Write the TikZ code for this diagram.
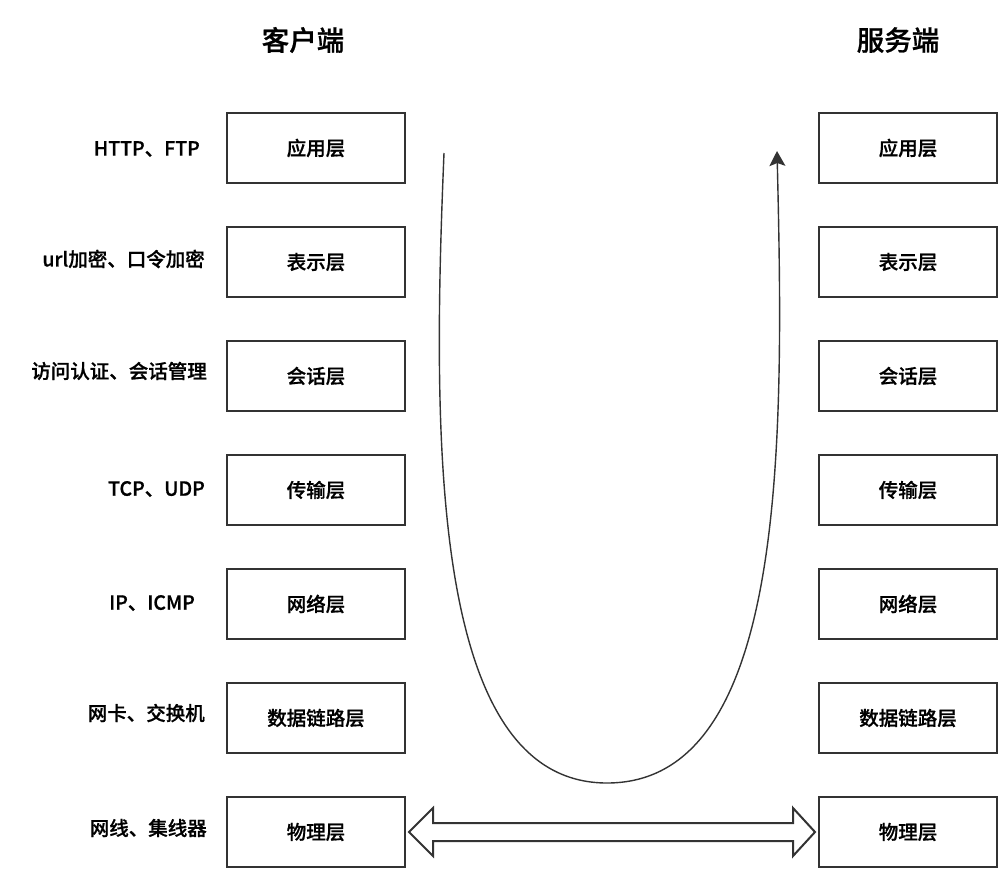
\documentclass[tikz,border=0pt]{standalone}
\usepackage{fontspec}
\setmainfont{Noto Sans CJK SC}[BoldFont={Noto Sans CJK SC Medium},BoldFeatures={FakeBold=0.8}]
\usetikzlibrary{arrows.meta,calc}
\definecolor{ln}{HTML}{333333}
\begin{document}
\begin{tikzpicture}[x=1pt,y=-1pt,
  layerbox/.style={draw=ln,line width=2pt,minimum width=178pt,minimum height=70pt,inner sep=0pt,font=\fontsize{19.5}{19.5}\selectfont\bfseries,anchor=center},
  lbl/.style={font=\fontsize{19.5}{19.5}\selectfont\bfseries,anchor=east,inner sep=0pt},
  ttl/.style={font=\fontsize{27.5}{27.5}\selectfont\bfseries,inner sep=0pt}]
\useasboundingbox (0,0) rectangle (998,868);
\node[ttl] (tl) at (303,40) {客户端};
\node[ttl] (tr) at (898,40) {服务端};
\foreach \i/\t [count=\k] in {148/应用层,262/表示层,376/会话层,490/传输层,604/网络层,718/数据链路层,832/物理层}{
  \node[layerbox] (L\k) at (316,\i) {\t};
  \node[layerbox] (R\k) at (908,\i) {\t};
}
\node[lbl] (a1) at (200,149) {HTTP、FTP};
\node[lbl] (a2) at (205,259) {url加密、口令加密};
\node[lbl] (a3) at (207,371) {访问认证、会话管理};
\node[lbl] (a4) at (205,489) {TCP、UDP};
\node[lbl] (a5) at (195,603) {IP、ICMP};
\node[lbl] (a6) at (205,713) {网卡、交换机};
\node[lbl] (a7) at (207,828) {网线、集线器};
\coordinate (cs) at (444,153);
\coordinate (cb) at (607,783);
\coordinate (ce) at (777,151);
\draw[ln,line width=1.4pt,-{Stealth[length=15pt,width=16pt,inset=3pt]}]
  (cs) .. controls (432,440) and (430,783) .. (cb)
       .. controls (788,783) and (784,440) .. (ce);
\draw[ln,line width=2pt,line join=miter,fill=white]
  ($(L7.east)+(3,0)$) -- (433,808) -- (433,823) -- (793,823) -- (793,808)
  -- ($(R7.west)+(-3,0)$) -- (793,856) -- (793,841) -- (433,841) -- (433,856) -- cycle;
\end{tikzpicture}
\end{document}
